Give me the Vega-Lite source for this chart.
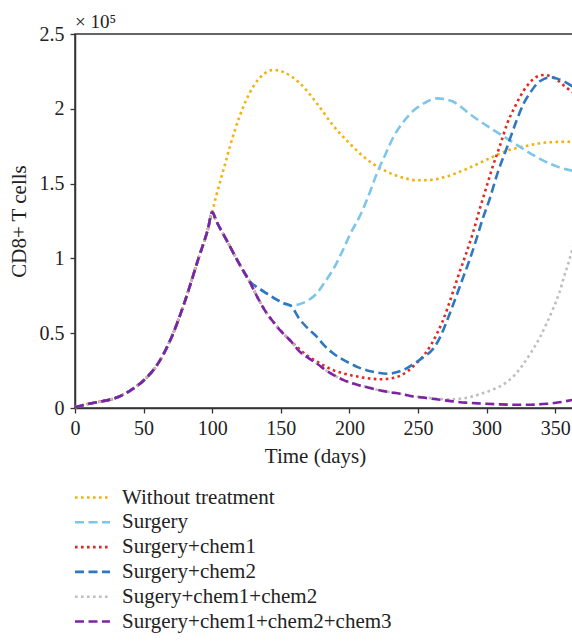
{
  "$schema": "https://vega.github.io/schema/vega-lite/v6.json",
  "width": 498,
  "height": 374,
  "autosize": {"type": "none"},
  "padding": {"left": 75, "top": 34, "right": 0, "bottom": 236},
  "background": "white",
  "title": {"text": "× 10⁵", "anchor": "start", "frame": "group", "font": "Liberation Serif", "fontSize": 19, "fontWeight": "normal", "color": "#222", "offset": -8},
  "datasets": {
    "curves": [
      {"series": "Without treatment", "day": 0, "cells": 500}, {"series": "Without treatment", "day": 10, "cells": 2800}, {"series": "Without treatment", "day": 20, "cells": 4500}, {"series": "Without treatment", "day": 30, "cells": 6800}, {"series": "Without treatment", "day": 40, "cells": 11500}, {"series": "Without treatment", "day": 50, "cells": 18400}, {"series": "Without treatment", "day": 60, "cells": 29000}, {"series": "Without treatment", "day": 70, "cells": 46500}, {"series": "Without treatment", "day": 80, "cells": 71000}, {"series": "Without treatment", "day": 90, "cells": 100000}, {"series": "Without treatment", "day": 97, "cells": 120000}, {"series": "Without treatment", "day": 100, "cells": 131000},
      {"series": "Without treatment", "day": 103, "cells": 142000}, {"series": "Without treatment", "day": 106, "cells": 152000}, {"series": "Without treatment", "day": 110, "cells": 165000}, {"series": "Without treatment", "day": 113, "cells": 175000}, {"series": "Without treatment", "day": 120, "cells": 195000}, {"series": "Without treatment", "day": 130, "cells": 215000}, {"series": "Without treatment", "day": 138, "cells": 223500}, {"series": "Without treatment", "day": 145, "cells": 226000}, {"series": "Without treatment", "day": 152, "cells": 224500}, {"series": "Without treatment", "day": 164, "cells": 217000}, {"series": "Without treatment", "day": 176, "cells": 204000}, {"series": "Without treatment", "day": 188, "cells": 189000}, {"series": "Without treatment", "day": 200, "cells": 177000}, {"series": "Without treatment", "day": 213, "cells": 166000}, {"series": "Without treatment", "day": 225, "cells": 159000}, {"series": "Without treatment", "day": 237, "cells": 154500}, {"series": "Without treatment", "day": 250, "cells": 152200}, {"series": "Without treatment", "day": 260, "cells": 152500}, {"series": "Without treatment", "day": 270, "cells": 154500}, {"series": "Without treatment", "day": 286, "cells": 160000}, {"series": "Without treatment", "day": 300, "cells": 166000}, {"series": "Without treatment", "day": 315, "cells": 172000}, {"series": "Without treatment", "day": 327, "cells": 174800}, {"series": "Without treatment", "day": 339, "cells": 177000}, {"series": "Without treatment", "day": 350, "cells": 177800}, {"series": "Without treatment", "day": 363, "cells": 178000},

      {"series": "Surgery", "day": 0, "cells": 500}, {"series": "Surgery", "day": 10, "cells": 2800}, {"series": "Surgery", "day": 20, "cells": 4500}, {"series": "Surgery", "day": 30, "cells": 6800}, {"series": "Surgery", "day": 40, "cells": 11500}, {"series": "Surgery", "day": 50, "cells": 18400}, {"series": "Surgery", "day": 60, "cells": 29000}, {"series": "Surgery", "day": 70, "cells": 46500}, {"series": "Surgery", "day": 80, "cells": 71000}, {"series": "Surgery", "day": 90, "cells": 100000}, {"series": "Surgery", "day": 97, "cells": 120000}, {"series": "Surgery", "day": 100, "cells": 131000},
      {"series": "Surgery", "day": 103, "cells": 125000}, {"series": "Surgery", "day": 110, "cells": 113000}, {"series": "Surgery", "day": 120, "cells": 96000}, {"series": "Surgery", "day": 127, "cells": 85000}, {"series": "Surgery", "day": 134, "cells": 80000}, {"series": "Surgery", "day": 140, "cells": 76500}, {"series": "Surgery", "day": 147, "cells": 72500}, {"series": "Surgery", "day": 152, "cells": 70000}, {"series": "Surgery", "day": 157, "cells": 68500}, {"series": "Surgery", "day": 162, "cells": 69000}, {"series": "Surgery", "day": 170, "cells": 72000}, {"series": "Surgery", "day": 176, "cells": 76400}, {"series": "Surgery", "day": 182, "cells": 84000}, {"series": "Surgery", "day": 189, "cells": 94000}, {"series": "Surgery", "day": 195, "cells": 105000}, {"series": "Surgery", "day": 201, "cells": 117000}, {"series": "Surgery", "day": 208, "cells": 129000}, {"series": "Surgery", "day": 214, "cells": 142000}, {"series": "Surgery", "day": 220, "cells": 156700}, {"series": "Surgery", "day": 226, "cells": 169000}, {"series": "Surgery", "day": 232, "cells": 181000}, {"series": "Surgery", "day": 240, "cells": 192000}, {"series": "Surgery", "day": 247, "cells": 199000}, {"series": "Surgery", "day": 255, "cells": 204000}, {"series": "Surgery", "day": 264, "cells": 207000}, {"series": "Surgery", "day": 275, "cells": 205000}, {"series": "Surgery", "day": 290, "cells": 195000}, {"series": "Surgery", "day": 303, "cells": 187000}, {"series": "Surgery", "day": 315, "cells": 180000}, {"series": "Surgery", "day": 327, "cells": 173000}, {"series": "Surgery", "day": 339, "cells": 166500}, {"series": "Surgery", "day": 351, "cells": 161500}, {"series": "Surgery", "day": 363, "cells": 158500},

      {"series": "Surgery+chem1", "day": 0, "cells": 500}, {"series": "Surgery+chem1", "day": 10, "cells": 2800}, {"series": "Surgery+chem1", "day": 20, "cells": 4500}, {"series": "Surgery+chem1", "day": 30, "cells": 6800}, {"series": "Surgery+chem1", "day": 40, "cells": 11500}, {"series": "Surgery+chem1", "day": 50, "cells": 18400}, {"series": "Surgery+chem1", "day": 60, "cells": 29000}, {"series": "Surgery+chem1", "day": 70, "cells": 46500}, {"series": "Surgery+chem1", "day": 80, "cells": 71000}, {"series": "Surgery+chem1", "day": 90, "cells": 100000}, {"series": "Surgery+chem1", "day": 97, "cells": 120000}, {"series": "Surgery+chem1", "day": 100, "cells": 131000},
      {"series": "Surgery+chem1", "day": 103, "cells": 125000}, {"series": "Surgery+chem1", "day": 110, "cells": 113000}, {"series": "Surgery+chem1", "day": 120, "cells": 96000}, {"series": "Surgery+chem1", "day": 127, "cells": 85000}, {"series": "Surgery+chem1", "day": 133, "cells": 74000}, {"series": "Surgery+chem1", "day": 140, "cells": 63000}, {"series": "Surgery+chem1", "day": 145, "cells": 57000}, {"series": "Surgery+chem1", "day": 150, "cells": 51500}, {"series": "Surgery+chem1", "day": 157, "cells": 45000}, {"series": "Surgery+chem1", "day": 164, "cells": 39000}, {"series": "Surgery+chem1", "day": 170, "cells": 34500}, {"series": "Surgery+chem1", "day": 176.5, "cells": 31000}, {"series": "Surgery+chem1", "day": 183, "cells": 27500}, {"series": "Surgery+chem1", "day": 189, "cells": 25000}, {"series": "Surgery+chem1", "day": 196, "cells": 23000}, {"series": "Surgery+chem1", "day": 203, "cells": 21500}, {"series": "Surgery+chem1", "day": 210, "cells": 20300}, {"series": "Surgery+chem1", "day": 217, "cells": 19500}, {"series": "Surgery+chem1", "day": 223, "cells": 19200}, {"series": "Surgery+chem1", "day": 230, "cells": 19800}, {"series": "Surgery+chem1", "day": 237, "cells": 21500}, {"series": "Surgery+chem1", "day": 243, "cells": 25000}, {"series": "Surgery+chem1", "day": 249, "cells": 30000}, {"series": "Surgery+chem1", "day": 255, "cells": 36000}, {"series": "Surgery+chem1", "day": 260, "cells": 43000}, {"series": "Surgery+chem1", "day": 264, "cells": 50000}, {"series": "Surgery+chem1", "day": 268, "cells": 58000}, {"series": "Surgery+chem1", "day": 272, "cells": 68000}, {"series": "Surgery+chem1", "day": 276, "cells": 79000}, {"series": "Surgery+chem1", "day": 280, "cells": 90000}, {"series": "Surgery+chem1", "day": 285, "cells": 103000}, {"series": "Surgery+chem1", "day": 290, "cells": 117000}, {"series": "Surgery+chem1", "day": 295, "cells": 133000}, {"series": "Surgery+chem1", "day": 299, "cells": 145000}, {"series": "Surgery+chem1", "day": 304, "cells": 160000}, {"series": "Surgery+chem1", "day": 310, "cells": 176000}, {"series": "Surgery+chem1", "day": 315, "cells": 190000}, {"series": "Surgery+chem1", "day": 321, "cells": 202000}, {"series": "Surgery+chem1", "day": 327, "cells": 212000}, {"series": "Surgery+chem1", "day": 333, "cells": 219000}, {"series": "Surgery+chem1", "day": 338, "cells": 222000}, {"series": "Surgery+chem1", "day": 342, "cells": 222600}, {"series": "Surgery+chem1", "day": 347, "cells": 221500}, {"series": "Surgery+chem1", "day": 352, "cells": 219000}, {"series": "Surgery+chem1", "day": 357, "cells": 215000}, {"series": "Surgery+chem1", "day": 363, "cells": 211000},

      {"series": "Surgery+chem2", "day": 0, "cells": 500}, {"series": "Surgery+chem2", "day": 10, "cells": 2800}, {"series": "Surgery+chem2", "day": 20, "cells": 4500}, {"series": "Surgery+chem2", "day": 30, "cells": 6800}, {"series": "Surgery+chem2", "day": 40, "cells": 11500}, {"series": "Surgery+chem2", "day": 50, "cells": 18400}, {"series": "Surgery+chem2", "day": 60, "cells": 29000}, {"series": "Surgery+chem2", "day": 70, "cells": 46500}, {"series": "Surgery+chem2", "day": 80, "cells": 71000}, {"series": "Surgery+chem2", "day": 90, "cells": 100000}, {"series": "Surgery+chem2", "day": 97, "cells": 120000}, {"series": "Surgery+chem2", "day": 100, "cells": 131000},
      {"series": "Surgery+chem2", "day": 103, "cells": 125000}, {"series": "Surgery+chem2", "day": 110, "cells": 113000}, {"series": "Surgery+chem2", "day": 120, "cells": 96000}, {"series": "Surgery+chem2", "day": 127, "cells": 85000}, {"series": "Surgery+chem2", "day": 134, "cells": 80000}, {"series": "Surgery+chem2", "day": 140, "cells": 76500}, {"series": "Surgery+chem2", "day": 147, "cells": 72500}, {"series": "Surgery+chem2", "day": 152, "cells": 70000}, {"series": "Surgery+chem2", "day": 157, "cells": 68500}, {"series": "Surgery+chem2", "day": 164, "cells": 59000}, {"series": "Surgery+chem2", "day": 170, "cells": 53000}, {"series": "Surgery+chem2", "day": 176.5, "cells": 47400}, {"series": "Surgery+chem2", "day": 182, "cells": 41500}, {"series": "Surgery+chem2", "day": 188.6, "cells": 36300}, {"series": "Surgery+chem2", "day": 195, "cells": 32500}, {"series": "Surgery+chem2", "day": 201, "cells": 29600}, {"series": "Surgery+chem2", "day": 207, "cells": 27000}, {"series": "Surgery+chem2", "day": 213, "cells": 25100}, {"series": "Surgery+chem2", "day": 220, "cells": 23700}, {"series": "Surgery+chem2", "day": 228, "cells": 22900}, {"series": "Surgery+chem2", "day": 235, "cells": 24000}, {"series": "Surgery+chem2", "day": 241, "cells": 26200}, {"series": "Surgery+chem2", "day": 247, "cells": 29600}, {"series": "Surgery+chem2", "day": 254, "cells": 34000}, {"series": "Surgery+chem2", "day": 261, "cells": 39500}, {"series": "Surgery+chem2", "day": 266, "cells": 47000}, {"series": "Surgery+chem2", "day": 271, "cells": 58000}, {"series": "Surgery+chem2", "day": 276, "cells": 70000}, {"series": "Surgery+chem2", "day": 283, "cells": 87500}, {"series": "Surgery+chem2", "day": 288, "cells": 100000}, {"series": "Surgery+chem2", "day": 293, "cells": 114000}, {"series": "Surgery+chem2", "day": 297, "cells": 126000}, {"series": "Surgery+chem2", "day": 302, "cells": 139000}, {"series": "Surgery+chem2", "day": 308, "cells": 157000}, {"series": "Surgery+chem2", "day": 315, "cells": 174500}, {"series": "Surgery+chem2", "day": 321, "cells": 190000}, {"series": "Surgery+chem2", "day": 327, "cells": 203500}, {"series": "Surgery+chem2", "day": 332, "cells": 211000}, {"series": "Surgery+chem2", "day": 337, "cells": 217000}, {"series": "Surgery+chem2", "day": 342, "cells": 220000}, {"series": "Surgery+chem2", "day": 347, "cells": 221000}, {"series": "Surgery+chem2", "day": 352, "cells": 220000}, {"series": "Surgery+chem2", "day": 357, "cells": 218000}, {"series": "Surgery+chem2", "day": 363, "cells": 214700},

      {"series": "Sugery+chem1+chem2", "day": 0, "cells": 500}, {"series": "Sugery+chem1+chem2", "day": 10, "cells": 2800}, {"series": "Sugery+chem1+chem2", "day": 20, "cells": 4500}, {"series": "Sugery+chem1+chem2", "day": 30, "cells": 6800}, {"series": "Sugery+chem1+chem2", "day": 40, "cells": 11500}, {"series": "Sugery+chem1+chem2", "day": 50, "cells": 18400}, {"series": "Sugery+chem1+chem2", "day": 60, "cells": 29000}, {"series": "Sugery+chem1+chem2", "day": 70, "cells": 46500}, {"series": "Sugery+chem1+chem2", "day": 80, "cells": 71000}, {"series": "Sugery+chem1+chem2", "day": 90, "cells": 100000}, {"series": "Sugery+chem1+chem2", "day": 97, "cells": 120000}, {"series": "Sugery+chem1+chem2", "day": 100, "cells": 131000},
      {"series": "Sugery+chem1+chem2", "day": 103, "cells": 125000}, {"series": "Sugery+chem1+chem2", "day": 110, "cells": 113000}, {"series": "Sugery+chem1+chem2", "day": 120, "cells": 96000}, {"series": "Sugery+chem1+chem2", "day": 127, "cells": 85000}, {"series": "Sugery+chem1+chem2", "day": 133, "cells": 74000}, {"series": "Sugery+chem1+chem2", "day": 140, "cells": 63000}, {"series": "Sugery+chem1+chem2", "day": 145, "cells": 57000}, {"series": "Sugery+chem1+chem2", "day": 150, "cells": 51500}, {"series": "Sugery+chem1+chem2", "day": 157, "cells": 45000}, {"series": "Sugery+chem1+chem2", "day": 164, "cells": 37500}, {"series": "Sugery+chem1+chem2", "day": 170, "cells": 33500}, {"series": "Sugery+chem1+chem2", "day": 176.5, "cells": 29600}, {"series": "Sugery+chem1+chem2", "day": 184, "cells": 24500}, {"series": "Sugery+chem1+chem2", "day": 189, "cells": 21800}, {"series": "Sugery+chem1+chem2", "day": 195, "cells": 19000}, {"series": "Sugery+chem1+chem2", "day": 201, "cells": 16800}, {"series": "Sugery+chem1+chem2", "day": 207, "cells": 15200}, {"series": "Sugery+chem1+chem2", "day": 213, "cells": 13900}, {"series": "Sugery+chem1+chem2", "day": 220, "cells": 12200}, {"series": "Sugery+chem1+chem2", "day": 228, "cells": 10800}, {"series": "Sugery+chem1+chem2", "day": 237, "cells": 9500}, {"series": "Sugery+chem1+chem2", "day": 247, "cells": 7700}, {"series": "Sugery+chem1+chem2", "day": 255, "cells": 7000}, {"series": "Sugery+chem1+chem2", "day": 262, "cells": 6400}, {"series": "Sugery+chem1+chem2", "day": 271, "cells": 5800}, {"series": "Sugery+chem1+chem2", "day": 280, "cells": 6200}, {"series": "Sugery+chem1+chem2", "day": 288, "cells": 7300}, {"series": "Sugery+chem1+chem2", "day": 296, "cells": 9500}, {"series": "Sugery+chem1+chem2", "day": 305, "cells": 12500}, {"series": "Sugery+chem1+chem2", "day": 315, "cells": 17500}, {"series": "Sugery+chem1+chem2", "day": 321, "cells": 22500}, {"series": "Sugery+chem1+chem2", "day": 327, "cells": 29600}, {"series": "Sugery+chem1+chem2", "day": 333, "cells": 38000}, {"series": "Sugery+chem1+chem2", "day": 339, "cells": 47400}, {"series": "Sugery+chem1+chem2", "day": 344, "cells": 57000}, {"series": "Sugery+chem1+chem2", "day": 349, "cells": 67500}, {"series": "Sugery+chem1+chem2", "day": 353, "cells": 77000}, {"series": "Sugery+chem1+chem2", "day": 356.4, "cells": 87500}, {"series": "Sugery+chem1+chem2", "day": 360, "cells": 98000}, {"series": "Sugery+chem1+chem2", "day": 363, "cells": 108000},

      {"series": "Surgery+chem1+chem2+chem3", "day": 0, "cells": 500}, {"series": "Surgery+chem1+chem2+chem3", "day": 10, "cells": 2800}, {"series": "Surgery+chem1+chem2+chem3", "day": 20, "cells": 4500}, {"series": "Surgery+chem1+chem2+chem3", "day": 30, "cells": 6800}, {"series": "Surgery+chem1+chem2+chem3", "day": 40, "cells": 11500}, {"series": "Surgery+chem1+chem2+chem3", "day": 50, "cells": 18400}, {"series": "Surgery+chem1+chem2+chem3", "day": 60, "cells": 29000}, {"series": "Surgery+chem1+chem2+chem3", "day": 70, "cells": 46500}, {"series": "Surgery+chem1+chem2+chem3", "day": 80, "cells": 71000}, {"series": "Surgery+chem1+chem2+chem3", "day": 90, "cells": 100000}, {"series": "Surgery+chem1+chem2+chem3", "day": 97, "cells": 120000}, {"series": "Surgery+chem1+chem2+chem3", "day": 100, "cells": 131000},
      {"series": "Surgery+chem1+chem2+chem3", "day": 103, "cells": 125000}, {"series": "Surgery+chem1+chem2+chem3", "day": 110, "cells": 113000}, {"series": "Surgery+chem1+chem2+chem3", "day": 120, "cells": 96000}, {"series": "Surgery+chem1+chem2+chem3", "day": 127, "cells": 85000}, {"series": "Surgery+chem1+chem2+chem3", "day": 133, "cells": 74000}, {"series": "Surgery+chem1+chem2+chem3", "day": 140, "cells": 63000}, {"series": "Surgery+chem1+chem2+chem3", "day": 145, "cells": 57000}, {"series": "Surgery+chem1+chem2+chem3", "day": 150, "cells": 51500}, {"series": "Surgery+chem1+chem2+chem3", "day": 157, "cells": 45000}, {"series": "Surgery+chem1+chem2+chem3", "day": 164, "cells": 37500}, {"series": "Surgery+chem1+chem2+chem3", "day": 170, "cells": 33500}, {"series": "Surgery+chem1+chem2+chem3", "day": 176.5, "cells": 29600}, {"series": "Surgery+chem1+chem2+chem3", "day": 184, "cells": 24500}, {"series": "Surgery+chem1+chem2+chem3", "day": 189, "cells": 21800}, {"series": "Surgery+chem1+chem2+chem3", "day": 195, "cells": 19000}, {"series": "Surgery+chem1+chem2+chem3", "day": 201, "cells": 16800}, {"series": "Surgery+chem1+chem2+chem3", "day": 207, "cells": 15200}, {"series": "Surgery+chem1+chem2+chem3", "day": 213, "cells": 13900}, {"series": "Surgery+chem1+chem2+chem3", "day": 220, "cells": 12200}, {"series": "Surgery+chem1+chem2+chem3", "day": 228, "cells": 10800}, {"series": "Surgery+chem1+chem2+chem3", "day": 237, "cells": 9500}, {"series": "Surgery+chem1+chem2+chem3", "day": 247, "cells": 7700}, {"series": "Surgery+chem1+chem2+chem3", "day": 255, "cells": 6800}, {"series": "Surgery+chem1+chem2+chem3", "day": 262, "cells": 6000}, {"series": "Surgery+chem1+chem2+chem3", "day": 274, "cells": 4600}, {"series": "Surgery+chem1+chem2+chem3", "day": 285, "cells": 3600}, {"series": "Surgery+chem1+chem2+chem3", "day": 296, "cells": 3000}, {"series": "Surgery+chem1+chem2+chem3", "day": 308, "cells": 2500}, {"series": "Surgery+chem1+chem2+chem3", "day": 320, "cells": 2200}, {"series": "Surgery+chem1+chem2+chem3", "day": 332, "cells": 2200}, {"series": "Surgery+chem1+chem2+chem3", "day": 344, "cells": 2800}, {"series": "Surgery+chem1+chem2+chem3", "day": 353, "cells": 3800}, {"series": "Surgery+chem1+chem2+chem3", "day": 363, "cells": 5500}
    ]
  },
  "data": {"name": "curves"},
  "mark": {"type": "line", "interpolate": "monotone", "strokeWidth": 2.6, "strokeCap": "butt"},
  "encoding": {
    "x": {
      "field": "day", "type": "quantitative",
      "scale": {"domain": [0, 363], "nice": false, "zero": false},
      "axis": {"title": "Time (days)", "values": [0, 50, 100, 150, 200, 250, 300, 350], "grid": false, "tickSize": 5, "labelPadding": 5, "titlePadding": 7, "labelFlush": false, "labelOverlap": false, "titleX": 240,
        "domainColor": "#333", "domainWidth": 1.5, "tickColor": "#333", "tickWidth": 1.3,
        "labelFont": "Liberation Serif", "labelFontSize": 20, "labelColor": "#222",
        "titleFont": "Liberation Serif", "titleFontSize": 21, "titleFontWeight": "normal", "titleColor": "#222"}
    },
    "y": {
      "field": "cells", "type": "quantitative",
      "scale": {"domain": [0, 250000], "nice": false},
      "axis": {"title": "CD8+ T cells", "values": [0, 50000, 100000, 150000, 200000, 250000], "labelExpr": "format(datum.value / 100000, '~g')", "grid": false, "tickSize": 5, "labelPadding": 6, "titlePadding": 10, "labelFlush": false, "labelOverlap": false,
        "domainColor": "#333", "domainWidth": 1.5, "tickColor": "#333", "tickWidth": 1.3,
        "labelFont": "Liberation Serif", "labelFontSize": 20, "labelColor": "#222",
        "titleFont": "Liberation Serif", "titleFontSize": 21, "titleFontWeight": "normal", "titleColor": "#222"}
    },
    "color": {
      "field": "series", "type": "nominal",
      "scale": {"domain": ["Without treatment", "Surgery", "Surgery+chem1", "Surgery+chem2", "Sugery+chem1+chem2", "Surgery+chem1+chem2+chem3"],
                "range": ["#F2B20C", "#7EC6E9", "#E3271F", "#2E77C1", "#BEBEBE", "#7E22A6"]},
      "legend": {"orient": "none", "legendX": 7, "legendY": 453, "direction": "vertical", "title": null,
        "symbolType": "M-2,0H2", "symbolSize": 306, "symbolStrokeWidth": 2.6,
        "labelFont": "Liberation Serif", "labelFontSize": 21, "labelColor": "#222", "labelOffset": 19, "rowPadding": 2.8, "labelLimit": 500}
    },
    "strokeDash": {
      "field": "series", "type": "nominal",
      "scale": {"domain": ["Without treatment", "Surgery", "Surgery+chem1", "Surgery+chem2", "Sugery+chem1+chem2", "Surgery+chem1+chem2+chem3"],
                "range": [[2.6, 3.4], [9, 4.5], [2.6, 3.4], [9, 4.5], [2.6, 3.4], [9, 4.5]]},
      "legend": null
    }
  },
  "config": {
    "view": {"stroke": "#333", "strokeWidth": 1.5},
    "font": "Liberation Serif"
  }
}
